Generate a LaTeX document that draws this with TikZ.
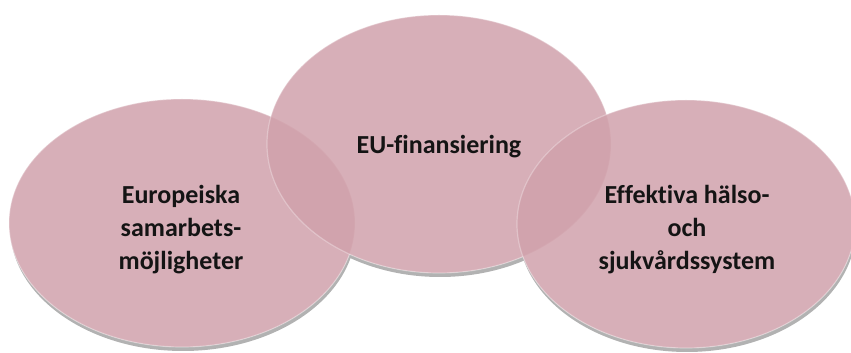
\documentclass[tikz,border=0pt]{standalone}
\usepackage{fontspec}
\setmainfont{Carlito}[Ligatures=NoCommon]
\usetikzlibrary{shapes.geometric}
\definecolor{petal}{RGB}{209,162,172}
\definecolor{shade}{RGB}{178,178,178}
\tikzset{
  x=1pt,y=1pt,
  blob/.style={ellipse, inner sep=0pt, minimum width=#1},
  shadowblob/.style={fill=shade},
  baseblob/.style={fill=white},
  pinkblob/.style={fill=petal, fill opacity=0.85, draw=white, draw opacity=0.3, line width=1.2pt},
  label/.style={font=\fontsize{26}{33}\selectfont\bfseries, align=center, text=black!92},
}
\begin{document}
\begin{tikzpicture}
\useasboundingbox (0,0) rectangle (851,353);
\clip (0,0) rectangle (851,353);
% shadows
\foreach \cx/\cy/\rx/\ry in {182/130/173/124, 439/209/172/129, 686/129/169/124}{
  \fill[shadowblob] (\cx+1,\cy-4) ellipse [x radius=\rx, y radius=\ry];
}
\foreach \cx/\cy/\rx/\ry in {182/130/173/124, 439/209/172/129, 686/129/169/124}{
  \fill[baseblob] (\cx,\cy) ellipse [x radius=\rx, y radius=\ry];
}
% ellipses
\node[blob=346pt, minimum height=248pt, pinkblob] (left) at (182,130) {};
\node[blob=344pt, minimum height=258pt, pinkblob] (mid) at (439,209) {};
\node[blob=338pt, minimum height=248pt, pinkblob] (right) at (686,129) {};
% texts
\node[label] (tleft) at ([xshift=-1pt,yshift=-7pt]left.center) {Europeiska\\samarbets-\\möjligheter};
\node[label] (tmid) at ([yshift=-3pt]mid.center) {EU-finansiering};
\node[label] (tright) at ([xshift=1pt,yshift=-6pt]right.center) {Effektiva hälso-\\och\\sjukvårdssystem};
\end{tikzpicture}
\end{document}
